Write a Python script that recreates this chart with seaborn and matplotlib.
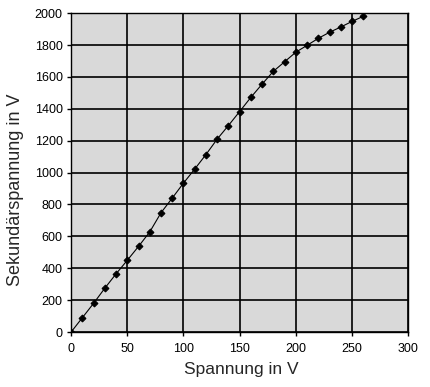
import pandas as pd
import numpy as np
import matplotlib.pyplot as plt
import seaborn as sns

# Messwerte
spannung = [0, 10, 20, 30, 40, 50, 60, 70, 80, 90, 100, 110, 120, 130,
            140, 150, 160, 170, 180, 190, 200, 210, 220, 230, 240, 250, 260]
sekundaer = [0, 90, 180, 275, 365, 450, 537, 628, 748, 840, 934, 1022, 1113, 1210,
             1295, 1383, 1472, 1555, 1635, 1695, 1755, 1798, 1842, 1880, 1913, 1948, 1980]

df = pd.DataFrame({"Spannung": spannung, "Sekundaer": sekundaer})

sns.set_theme(style="ticks", rc={"axes.facecolor": "#d9d9d9",
                                 "axes.edgecolor": "black",
                                 "grid.color": "black"})
plt.rcParams['font.family'] = ['Liberation Sans', 'DejaVu Sans']

fig = plt.figure(figsize=(4.31, 3.87), dpi=100)
ax = fig.add_axes([0.165, 0.142, 0.782, 0.824])

sns.lineplot(data=df, x="Spannung", y="Sekundaer", ax=ax, color="black",
             linewidth=0.8, marker="D", markersize=3.5, markeredgecolor="black")

ax.set_xlim(0, 300)
ax.set_ylim(0, 2000)
ax.set_xticks(range(0, 301, 50))
ax.set_yticks(range(0, 2001, 200))
ax.grid(True, color="black", linewidth=1.2)
ax.set_axisbelow(True)
for s in ax.spines.values():
    s.set_linewidth(1.0)
ax.tick_params(axis="both", labelsize=9, length=3, width=1, colors="black", pad=3)
ax.tick_params(axis="x", pad=5)
ax.set_xlabel("Spannung in V", fontsize=12.5)
ax.set_ylabel("Sekundärspannung in V", fontsize=13)
ax.xaxis.set_label_coords(0.506, -0.119)
ax.yaxis.set_label_coords(-0.166, 0.445)
ax.xaxis.label.set_va("center")
ax.yaxis.label.set_va("center")

fig.savefig("out.png", dpi=100)
